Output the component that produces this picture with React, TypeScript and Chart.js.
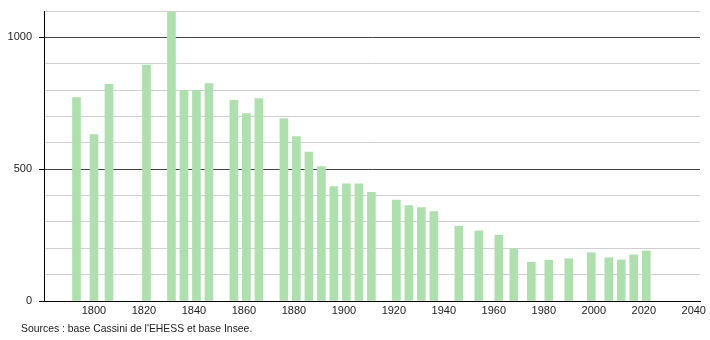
import React, { useEffect, useRef } from "react";
import { Chart, registerables } from "chart.js";

Chart.register(...registerables);

const years = [
  1793, 1800, 1806, 1821, 1831, 1836, 1841, 1846, 1856, 1861, 1866, 1876, 1881,
  1886, 1891, 1896, 1901, 1906, 1911, 1921, 1926, 1931, 1936, 1946, 1954, 1962,
  1968, 1975, 1982, 1990, 1999, 2006, 2011, 2016, 2021,
];
const population = [
  772, 631, 822, 895, 1095, 799, 799, 825, 761, 711, 768, 692, 624,
  565, 510, 434, 444, 444, 412, 383, 362, 354, 339, 284, 266, 250,
  197, 147, 155, 160, 183, 164, 156, 175, 190,
];
const xTickLabels = [1800, 1820, 1840, 1860, 1880, 1900, 1920, 1940, 1960, 1980, 2000, 2020, 2040];
const yLabelled = [0, 500, 1000];
const sourceText = "Sources : base Cassini de l'EHESS et base Insee.";

const FONT = '"Liberation Sans", Arial, sans-serif';

export default function App() {
  const ref = useRef<HTMLCanvasElement | null>(null);

  useEffect(() => {
    if (!ref.current) return;
    const sourcePlugin = {
      id: "sourceText",
      afterDraw(chart: any) {
        const ctx = chart.ctx;
        ctx.save();
        ctx.font = `10.4px ${FONT}`;
        ctx.fillStyle = "#222";
        ctx.textBaseline = "middle";
        ctx.textAlign = "left";
        ctx.fillText(sourceText, 21, 329);
        ctx.restore();
      },
    };
    const chart = new Chart(ref.current, {
      type: "bar",
      data: {
        datasets: [
          {
            data: years.map((y, i) => ({ x: y, y: population[i] })),
            backgroundColor: "rgb(173,224,173)",
            borderWidth: 0,
            barThickness: 8,
          },
        ],
      },
      options: {
        responsive: false,
        animation: false,
        layout: { padding: { top: 11, right: 10, left: 0, bottom: 0 } },
        plugins: {
          legend: { display: false },
          tooltip: { enabled: false },
          title: { display: false },
        },
        scales: {
          x: {
            type: "linear",
            min: 1780,
            max: 2042.5,
            offset: false,
            grid: { display: false, drawTicks: false },
            border: { display: true, color: "#000", width: 1 },
            afterBuildTicks: (scale: any) => {
              scale.ticks = xTickLabels.map((v) => ({ value: v }));
            },
            afterFit: (scale: any) => {
              scale.height = 39;
              scale.paddingLeft = 0;
              scale.paddingRight = 0;
            },
            ticks: {
              padding: 3,
              autoSkip: false,
              maxRotation: 0,
              color: "#222",
              font: { family: FONT, size: 11 },
              callback: (v: any) => String(v),
            },
          },
          y: {
            min: 0,
            max: 1100,
            afterFit: (scale: any) => {
              scale.width = 44;
              scale.paddingTop = 0;
              scale.paddingBottom = 0;
            },
            ticks: {
              stepSize: 100,
              padding: 7,
              color: "#222",
              font: { family: FONT, size: 11 },
              callback: (v: any) => (yLabelled.includes(Number(v)) ? String(v) : ""),
            },
            grid: {
              color: (c: any) =>
                c.tick && c.tick.value % 500 === 0 ? "#444" : "#cfcfcf",
              tickColor: (c: any) =>
                c.tick && c.tick.value % 500 === 0 ? "#000" : "rgba(0,0,0,0)",
              tickLength: 5,
              lineWidth: 1,
            },
            border: { display: true, color: "#000", width: 1 },
          },
        },
      },
      plugins: [sourcePlugin],
    });
    return () => chart.destroy();
  }, []);

  return (
    <div style={{ position: "absolute", left: 0, top: 0, width: 710, height: 340, background: "#fff" }}>
      <canvas ref={ref} width={710} height={340} />
    </div>
  );
}
